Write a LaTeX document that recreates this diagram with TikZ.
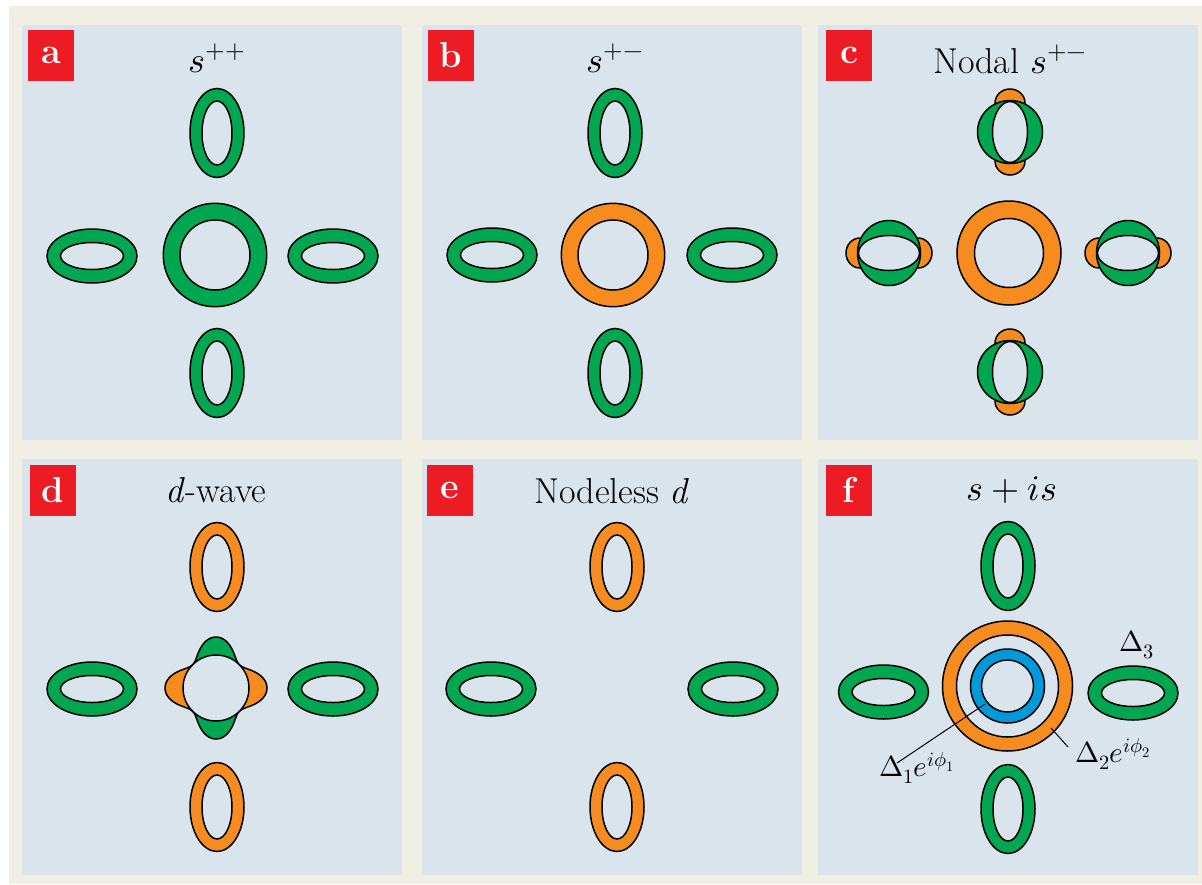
\documentclass[tikz,border=0pt]{standalone}
\usepackage{unicode-math}
\definecolor{cream}{RGB}{241,239,227}
\definecolor{pbg}{RGB}{217,228,237}
\definecolor{grn}{RGB}{0,166,80}
\definecolor{orn}{RGB}{246,139,31}
\definecolor{blu}{RGB}{0,153,218}
\definecolor{redl}{RGB}{237,28,36}
\begin{document}
\begin{tikzpicture}[x=1pt,y=-1pt,
  lw/.style={line width=1.5pt},
  panel/.style={fill=pbg},
  lab/.style={fill=redl,text=white,minimum width=46pt,minimum height=51pt,inner sep=0pt,font=\fontsize{36}{36}\selectfont\bfseries},
  ttl/.style={anchor=base,inner sep=0pt,font=\fontsize{36}{40}\selectfont},
  mlab/.style={inner sep=0pt,font=\fontsize{29}{32}\selectfont},
  leader/.style={line width=1pt},
  pics/vell/.style={code={\path[fill=#1,draw=black,lw,even odd rule] (0,0) ellipse[x radius=27pt,y radius=44.5pt] (0,0) ellipse[x radius=15pt,y radius=32pt];}},
  pics/hell/.style={code={\path[fill=#1,draw=black,lw,even odd rule] (0,0) ellipse[x radius=45pt,y radius=27pt] (0,0) ellipse[x radius=31.5pt,y radius=13.5pt];}},
  pics/ring/.style={code={\path[fill=#1,draw=black,lw,even odd rule] (0,0) circle[radius=51.7pt] (0,0) circle[radius=35pt];}},
  pics/nodv/.style={code={
     \path[fill=orn,draw=black,lw] (0,-29) ellipse[x radius=15pt,y radius=14pt];
     \path[fill=orn,draw=black,lw] (0,29) ellipse[x radius=15pt,y radius=14pt];
     \path[fill=grn,draw=black,lw] (0,0) ellipse[x radius=32.5pt,y radius=31.5pt];
     \path[fill=pbg,draw=black,lw] (0,0) ellipse[x radius=17.5pt,y radius=30.5pt];}},
  pics/nodh/.style={code={
     \path[fill=orn,draw=black,lw] (-29,0) ellipse[x radius=14pt,y radius=15pt];
     \path[fill=orn,draw=black,lw] (29,0) ellipse[x radius=14pt,y radius=15pt];
     \path[fill=grn,draw=black,lw] (0,0) ellipse[x radius=31.5pt,y radius=32.5pt];
     \path[fill=pbg,draw=black,lw] (0,0) ellipse[x radius=30.5pt,y radius=17.5pt];}}
]
\useasboundingbox (0,0) rectangle (1202,884);
\fill[white] (0,0) rectangle (1202,884);
\fill[cream] (9,6) rectangle (1202,884);
% panels
\fill[panel] (22,25) rectangle (402,440);
\fill[panel] (422,25) rectangle (802,440);
\fill[panel] (818,25) rectangle (1198,440);
\fill[panel] (22,459) rectangle (402,875);
\fill[panel] (422,459) rectangle (802,875);
\fill[panel] (818,459) rectangle (1198,875);
% labels
\node[lab] (la) at (51,55.5) {a};
\node[lab] (lb) at (451,55.5) {b};
\node[lab] (lc) at (849,55.5) {c};
\node[lab] (ld) at (53,490) {d};
\node[lab] (le) at (450,490) {e};
\node[lab] (lf) at (849,490) {f};
% titles
\node[ttl] (ta) at (217,72) {$s^{++}$};
\node[ttl] (tb) at (615,72) {$s^{+-}$};
\node[ttl] (tc) at (1010,73) {Nodal $s^{+-}$};
\node[ttl] (td) at (216,502) {\textit{d}-wave};
\node[ttl] (te) at (612,503) {Nodeless \textit{d}};
\node[ttl] (tf) at (1012,500) {$s+is$};
% panel a
\pic at (217,133) {vell=grn};
\pic at (217,373) {vell=grn};
\pic at (92,256) {hell=grn};
\pic at (333,256) {hell=grn};
\pic at (215,255) {ring=grn};
% panel b
\pic at (615,133) {vell=grn};
\pic at (615,373) {vell=grn};
\pic at (492,255) {hell=grn};
\pic at (732,255) {hell=grn};
\pic at (613,255) {ring=orn};
% panel c
\pic at (1010,132) {nodv};
\pic at (1010,372) {nodv};
\pic at (889,253) {nodh};
\pic at (1128,253) {nodh};
\path[fill=orn,draw=black,lw,even odd rule] (1009,253) circle[radius=52pt] (1009,253) circle[radius=34.5pt];
% panel d
\pic at (217,567) {vell=orn};
\pic at (217,807) {vell=orn};
\pic at (92,689) {hell=grn};
\pic at (333,689) {hell=grn};
\begin{scope}[shift={(216,688)}]
  \path[fill=orn] plot[domain=0:360,samples=181,smooth] ({(33+18*cos(2*\x)*cos(2*\x))*cos(\x)},{(33+18*cos(2*\x)*cos(2*\x))*sin(\x)}) -- cycle;
  \path[fill=grn] plot[domain=45:135,samples=61,smooth] ({(33+18*cos(2*\x)*cos(2*\x))*cos(\x)},{(33+18*cos(2*\x)*cos(2*\x))*sin(\x)}) -- (0,0) -- cycle;
  \path[fill=grn] plot[domain=225:315,samples=61,smooth] ({(33+18*cos(2*\x)*cos(2*\x))*cos(\x)},{(33+18*cos(2*\x)*cos(2*\x))*sin(\x)}) -- (0,0) -- cycle;
  \path[fill=pbg,draw=black,lw] (0,0) circle[radius=33pt];
  \draw[lw] plot[domain=0:360,samples=181,smooth] ({(33+18*cos(2*\x)*cos(2*\x))*cos(\x)},{(33+18*cos(2*\x)*cos(2*\x))*sin(\x)}) -- cycle;
\end{scope}
% panel e
\pic at (617,567) {vell=orn};
\pic at (617,807) {vell=orn};
\pic at (491,689) {hell=grn};
\pic at (733,689) {hell=grn};
% panel f
\pic at (1008,566) {vell=grn};
\pic at (1008,809) {vell=grn};
\pic at (883.5,692) {hell=grn};
\pic at (1133,693) {hell=grn};
\path[fill=orn,draw=black,lw,even odd rule] (1007.5,686) circle[radius=65pt] (1007.5,686) circle[radius=51pt];
\path[fill=blu,draw=black,lw,even odd rule] (1007.5,686) circle[radius=37pt] (1007.5,686) circle[radius=26pt];
\coordinate (p1) at (985,704);
\coordinate (q1) at (897,763);
\coordinate (p2) at (1051,728);
\coordinate (q2) at (1068,747);
\node[mlab] (d1) at (917,768) {$\Delta_1e^{i\phi_1}$};
\node[mlab] (d2) at (1113,754) {$\Delta_2e^{i\phi_2}$};
\node[mlab] (d3) at (1137,645) {$\Delta_3$};
\draw[leader] (p1) -- (q1);
\draw[leader] (p2) -- (q2);
\end{tikzpicture}
\end{document}
